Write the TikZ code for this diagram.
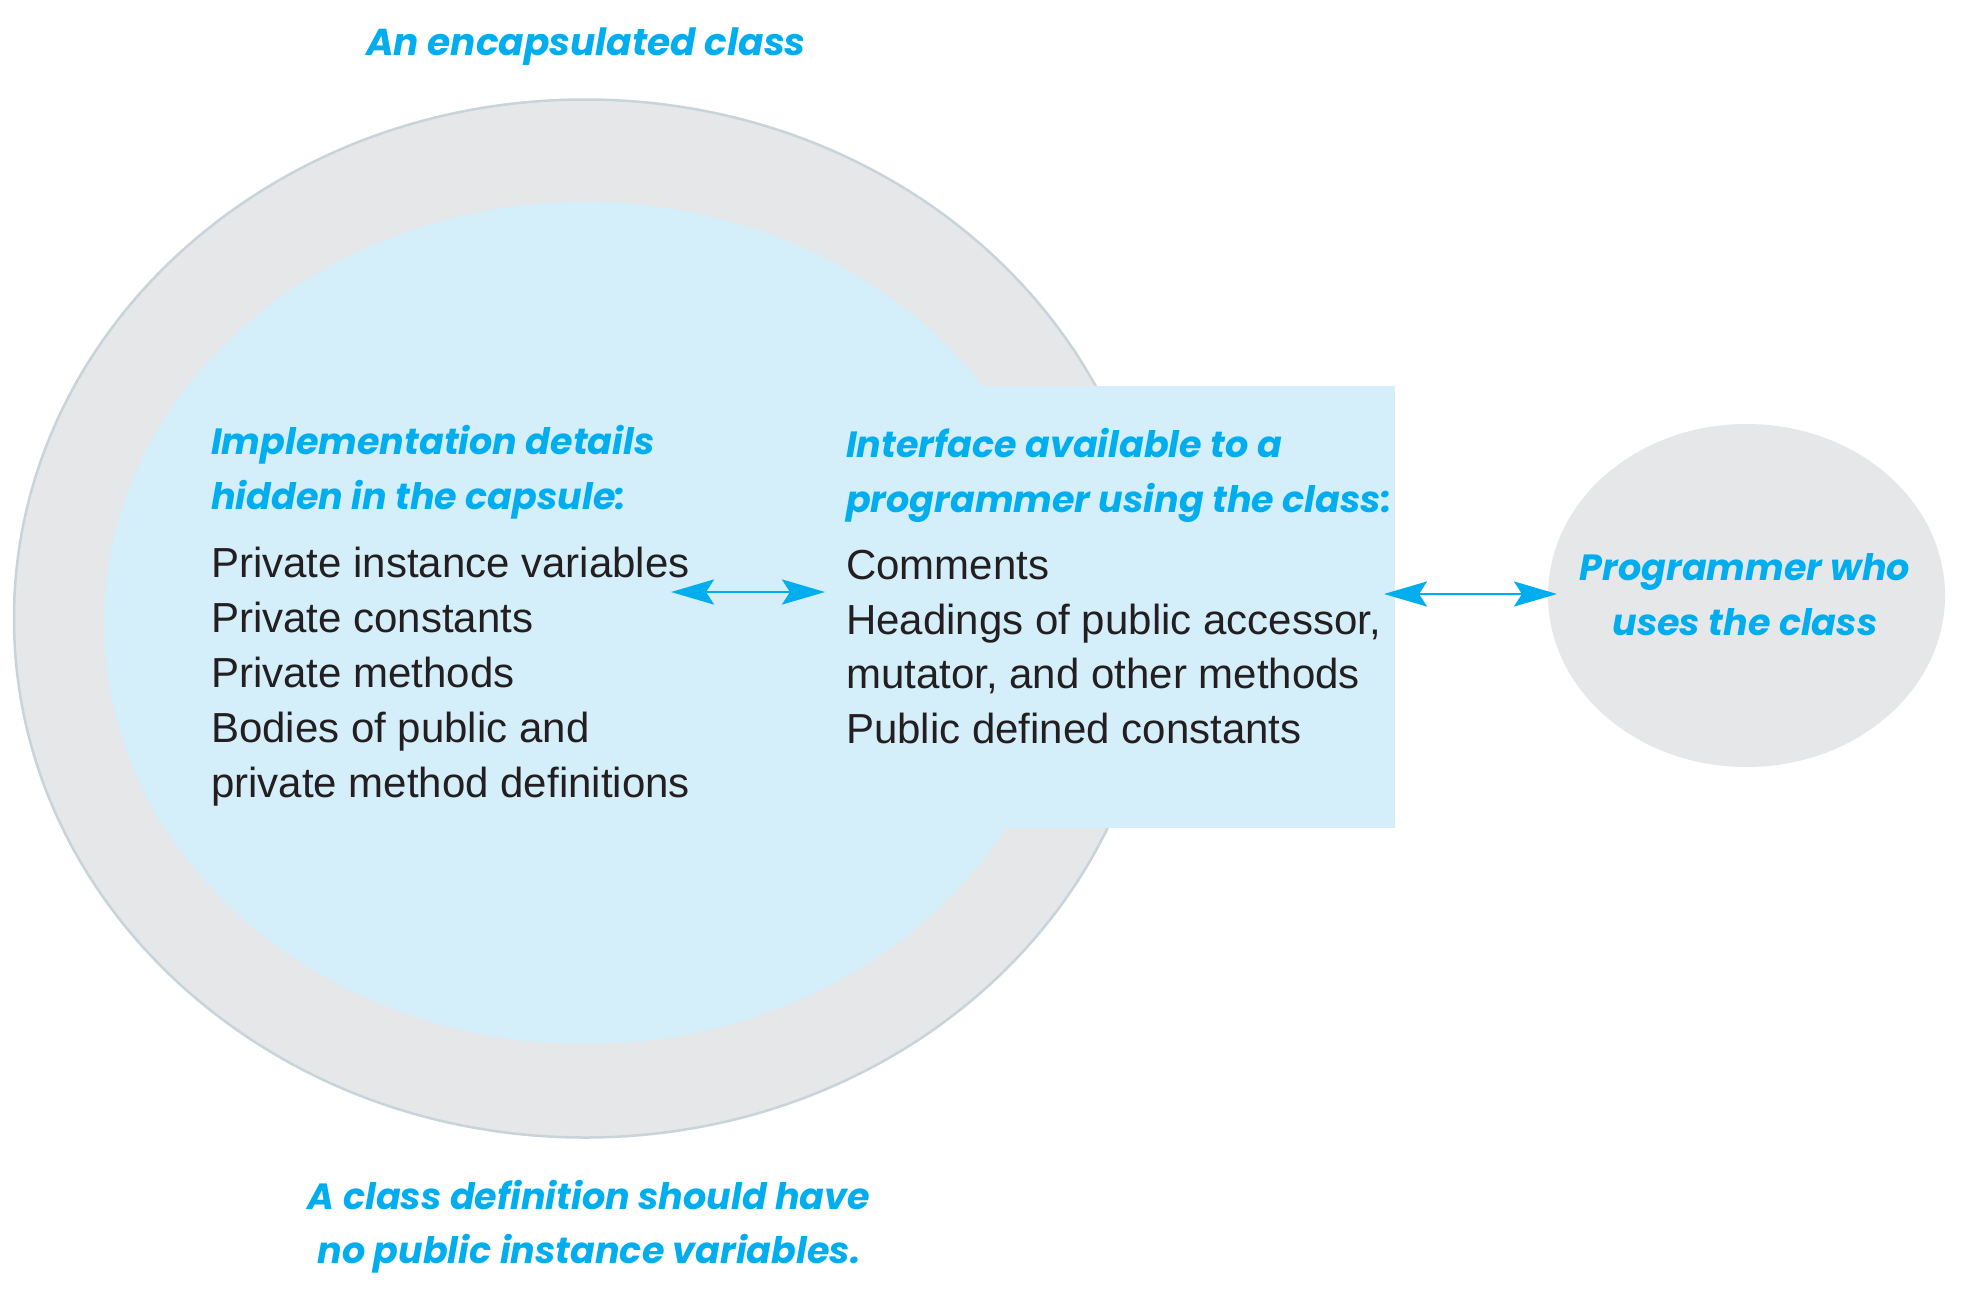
\documentclass[tikz,border=0pt]{standalone}
\usepackage{fontspec}
\setmainfont{Liberation Sans}
\newfontfamily\comicfont{Poppins}
\usetikzlibrary{arrows.meta,shapes.geometric}
\definecolor{capcyan}{HTML}{00AEEF}
\definecolor{capblue}{HTML}{D4EEFA}
\definecolor{capgray}{HTML}{E6E7E8}
\definecolor{caprim}{HTML}{C8D4DA}
\definecolor{captext}{HTML}{231F20}
\tikzset{
  hand/.style={font=\comicfont\bfseries\itshape\fontsize{36.5}{54.8}\selectfont, text=capcyan, inner sep=0pt},
  body/.style={font=\fontsize{42}{55}\selectfont, text=captext, inner sep=0pt, align=left},
  tipx/.tip={Stealth[length=43pt,width=25pt,inset=8pt]},
  link/.style={draw=capcyan, line width=2.7pt, tipx-tipx}
}
\begin{document}
\begin{tikzpicture}[x=1pt,y=-1pt]
\useasboundingbox (0,0) rectangle (1972,1288);
\fill[white] (0,0) rectangle (1972,1288);
% capsule
\node[ellipse, draw=caprim, line width=2.5pt, fill=capgray, minimum width=1142pt, minimum height=1038pt, inner sep=0pt] (capsule) at (585,618.5) {};
\node[ellipse, fill=capblue, minimum width=962pt, minimum height=842pt, inner sep=0pt] (inner) at (585,623) {};
\node[rectangle, fill=capblue, minimum width=425pt, minimum height=442pt, inner sep=0pt] (iface) at (1182.5,607) {};
\node[ellipse, fill=capgray, minimum width=397pt, minimum height=343pt, inner sep=0pt] (prog) at (1746.5,595.5) {};
% texts (base anchor = baseline of the last line)
\node[hand, font=\comicfont\bfseries\itshape\fontsize{37.5}{55}\selectfont, anchor=base] (title) at (586,55) {An encapsulated class};
\node[hand, anchor=base west, align=left] (implhead) at (211,509) {Implementation details\\hidden in the capsule:};
\node[body, anchor=base west] (impltext) at (211,797) {Private instance variables\\Private constants\\Private methods\\Bodies of public and\\private method definitions};
\node[hand, anchor=base west, align=left] (ifacehead) at (846,512) {Interface available to a\\programmer using the class:};
\node[body, anchor=base west, font=\fontsize{42}{54.4}\selectfont] (ifacetext) at (846,743) {Comments\\Headings of public accessor,\\mutator, and other methods\\Public defined constants};
\node[hand, anchor=base, align=center] (progtext) at (1745,635) {Programmer who\\uses the class};
\node[hand, anchor=base, align=center, font=\comicfont\bfseries\itshape\fontsize{36.5}{54}\selectfont] (note) at (589,1263) {A class definition should have\\no public instance variables.};
% connectors
\coordinate (implR) at (671,592);
\coordinate (ifaceL) at (825,592);
\coordinate (ifaceR) at (1384,594);
\coordinate (progL) at (1557,594);
\draw[link] (implR) -- (ifaceL);
\draw[link] (ifaceR) -- (progL);
\end{tikzpicture}
\end{document}
